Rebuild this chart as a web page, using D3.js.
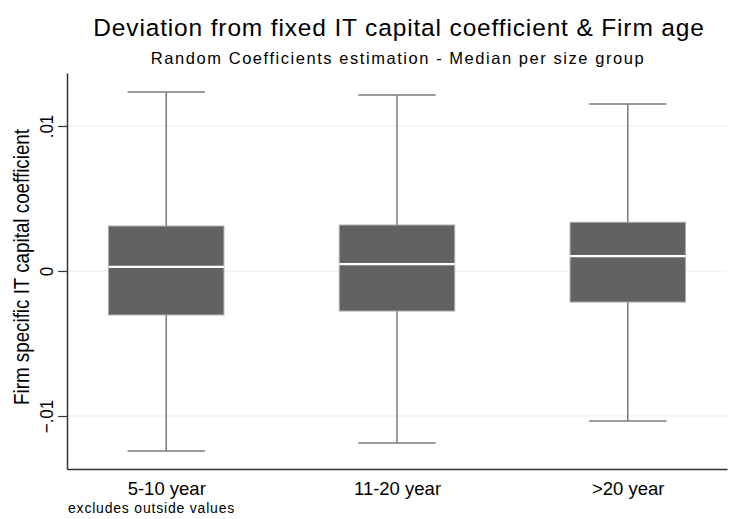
<!DOCTYPE html>
<meta charset="utf-8">
<script src="https://d3js.org/d3.v7.min.js"></script>
<style>
  body { margin: 0; background: #fff; }
  text { font-family: Arial, "Liberation Sans", sans-serif; fill: #000; }
</style>
<div id="my_dataviz"></div>
<script>

  // values
  var categories = ["5-10 year", "11-20 year", ">20 year"];
  var lowerWhisker = [-0.01241, -0.01186, -0.01034];
  var q1 = [-0.00303, -0.00276, -0.00214];
  var median = [0.00028, 0.00048, 0.00103];
  var q3 = [0.00310, 0.00317, 0.00336];
  var upperWhisker = [0.01234, 0.01214, 0.01152];
  var yTicks = [-0.01, 0, 0.01];

  var data = categories.map(function (c, i) {
    return { cat: c, lo: lowerWhisker[i], q1: q1[i], med: median[i], q3: q3[i], hi: upperWhisker[i] };
  });

  var W = 734, H = 519;
  var margin = { top: 73, right: 7, bottom: 50, left: 67 },
    width = W - margin.left - margin.right,
    height = H - margin.top - margin.bottom;

  var svg = d3.select("#my_dataviz")
    .append("svg")
    .attr("width", W)
    .attr("height", H);

  // titles
  svg.append("text")
    .attr("x", 399).attr("y", 36)
    .attr("text-anchor", "middle")
    .style("font-size", "24.5px")
    .style("letter-spacing", "0.85px")
    .text("Deviation from fixed IT capital coefficient & Firm age");
  svg.append("text")
    .attr("x", 398).attr("y", 64)
    .attr("text-anchor", "middle")
    .style("font-size", "16.5px")
    .style("letter-spacing", "1.55px")
    .text("Random Coefficients estimation - Median per size group");

  var g = svg.append("g")
    .attr("transform", "translate(" + margin.left + "," + margin.top + ")");

  var x = d3.scalePoint().domain(categories).range([0, width]).padding(0.43);
  var y = d3.scaleLinear().domain([-0.013655, 0.013655]).range([height, 0]);
  var boxW = x.step() * 0.5, capW = x.step() * 0.335;

  // grid lines
  g.append("g").selectAll("line")
    .data(yTicks).enter().append("line")
    .attr("x1", 0).attr("x2", width)
    .attr("y1", function (d) { return y(d); })
    .attr("y2", function (d) { return y(d); })
    .attr("stroke", "#ececec").attr("stroke-width", 1.2);

  // boxes
  var box = g.append("g").selectAll("g")
    .data(data).enter().append("g")
    .attr("transform", function (d) { return "translate(" + x(d.cat) + ",0)"; });

  box.append("line")
    .attr("x1", 0).attr("x2", 0)
    .attr("y1", function (d) { return y(d.hi); })
    .attr("y2", function (d) { return y(d.lo); })
    .attr("stroke", "#7a7a7a").attr("stroke-width", 1.5);
  box.selectAll(".cap")
    .data(function (d) { return [d.hi, d.lo]; })
    .enter().append("line")
    .attr("x1", -capW / 2).attr("x2", capW / 2)
    .attr("y1", function (v) { return y(v); })
    .attr("y2", function (v) { return y(v); })
    .attr("stroke", "#7a7a7a").attr("stroke-width", 1.5);
  box.append("rect")
    .attr("x", -boxW / 2).attr("width", boxW)
    .attr("y", function (d) { return y(d.q3); })
    .attr("height", function (d) { return y(d.q1) - y(d.q3); })
    .attr("fill", "#646164")
    .attr("stroke", "#a8a8a8").attr("stroke-width", 1);
  box.append("line")
    .attr("x1", -boxW / 2).attr("x2", boxW / 2)
    .attr("y1", function (d) { return y(d.med); })
    .attr("y2", function (d) { return y(d.med); })
    .attr("stroke", "#ffffff").attr("stroke-width", 2.2);

  // Y axis
  var yAxis = g.append("g")
    .call(d3.axisLeft(y).tickValues(yTicks).tickSize(9).tickSizeOuter(0)
      .tickFormat(function (d) { return d === 0 ? "0" : d3.format(".2f")(d).replace("0.", "."); }));
  yAxis.select(".domain").attr("stroke", "#333").attr("stroke-width", 1.5);
  yAxis.selectAll(".tick line").attr("stroke", "#333").attr("stroke-width", 1.2);
  yAxis.selectAll(".tick text")
    .attr("transform", "translate(-14,0) scale(1.1,1) rotate(-90)")
    .attr("x", 0).attr("y", 0).attr("dy", 0)
    .attr("text-anchor", "middle")
    .style("font-size", "17px");

  // X axis
  var xAxis = g.append("g")
    .attr("transform", "translate(0," + height + ")")
    .call(d3.axisBottom(x).tickSize(0).tickSizeOuter(0));
  xAxis.select(".domain").attr("stroke", "#333").attr("stroke-width", 1.5);
  xAxis.selectAll(".tick text")
    .attr("y", 26).attr("dy", 0)
    .style("font-size", "18.5px");

  // axis title
  svg.append("text")
    .attr("transform", "translate(29,267) scale(1.2,1) rotate(-90)")
    .attr("text-anchor", "middle")
    .style("font-size", "18.8px")
    .text("Firm specific IT capital coefficient");

  // note
  svg.append("text")
    .attr("x", 68).attr("y", 513)
    .style("font-size", "14px")
    .style("letter-spacing", "0.8px")
    .text("excludes outside values");

</script>
